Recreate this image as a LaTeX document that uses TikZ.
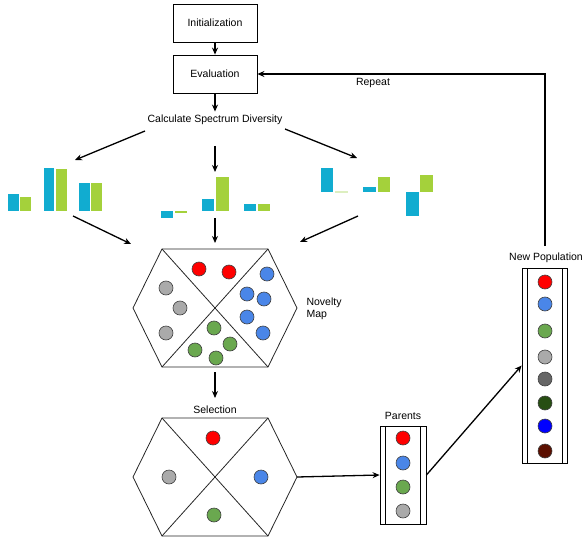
\documentclass[tikz,border=0pt]{standalone}
\usepackage{fontspec}
\setmainfont{Liberation Sans}
\usetikzlibrary{arrows.meta}
\definecolor{barblue}{HTML}{11ACD0}
\definecolor{bargreen}{HTML}{A4D13B}
\definecolor{barpale}{HTML}{DDEFC0}
\definecolor{cred}{HTML}{FF0000}
\definecolor{cblue}{HTML}{4A86E8}
\definecolor{cgreen}{HTML}{6AA84F}
\definecolor{cgray}{HTML}{AAAAAA}
\definecolor{cdgray}{HTML}{666666}
\definecolor{cdgreen}{HTML}{274E13}
\definecolor{cpure}{HTML}{0000FF}
\definecolor{cbrown}{HTML}{5B0F00}
\begin{document}
\begin{tikzpicture}[x=1pt,y=-1pt,font=\fontsize{10.5}{12.5}\selectfont,
  arr/.style={line width=1.3pt,-{Stealth[length=7pt,width=6pt]}},
  box/.style={draw,line width=0.8pt,minimum width=84pt,minimum height=38pt,inner sep=0pt},
  dot/.style={circle,draw=black!75,line width=0.6pt,minimum size=14pt,inner sep=0pt},
  hexl/.style={draw=black!85,line width=0.8pt},
  col/.style={draw,line width=0.8pt,inner sep=0pt},
  hexagon/.pic={
    \draw[hexl] (-53,-59) -- (53,-59) -- (82,0) -- (53,59) -- (-53,59) -- (-82,0) -- cycle;
    \draw[hexl] (-53,-59) -- (53,59);
    \draw[hexl] (53,-59) -- (-53,59);
  }]
\useasboundingbox (0,0) rectangle (588,540);

% top boxes
\node[box] (init) at (215,23) {Initialization};
\node[box] (eval) at (215,74) {Evaluation};
\node (calc) at (215,120) {Calculate Spectrum Diversity};
\draw[arr] (init) -- (eval);
\draw[arr] (eval) -- (calc);

% arrows to charts
\coordinate (c1s) at (145,131);
\coordinate (c1e) at (75,160);
\coordinate (c2s) at (215,146);
\coordinate (c2e) at (215,172);
\coordinate (c3s) at (285,129);
\coordinate (c3e) at (357,158);
\draw[arr] (c1s) -- (c1e);
\draw[arr] (c2s) -- (c2e);
\draw[arr] (c3s) -- (c3e);

% chart 1
\fill[barblue] (8,194) rectangle (19,211);
\fill[bargreen] (20,197) rectangle (31,211);
\fill[barblue] (44,168) rectangle (54,211);
\fill[bargreen] (56,169) rectangle (67,211);
\fill[barblue] (79,183) rectangle (90,211);
\fill[bargreen] (91,183) rectangle (102,211);
% chart 2
\fill[barblue] (161,211) rectangle (173,218);
\fill[bargreen] (175,211) rectangle (187,213);
\fill[barblue] (202,199) rectangle (214,211);
\fill[bargreen] (216,177) rectangle (229,211);
\fill[barblue] (244,204) rectangle (256,211);
\fill[bargreen] (258,204) rectangle (270,211);
% chart 3
\fill[barblue] (321,168) rectangle (333,192);
\fill[barpale] (335,191) rectangle (348,193);
\fill[barblue] (363,187) rectangle (376,192);
\fill[bargreen] (378,177) rectangle (390,192);
\fill[barblue] (406,192) rectangle (419,216);
\fill[bargreen] (420,175) rectangle (433,192);

% arrows to novelty map
\coordinate (d1s) at (73,216);
\coordinate (d1e) at (131,244);
\coordinate (d2s) at (215,218);
\coordinate (d2e) at (215,243);
\coordinate (d3s) at (358,216);
\coordinate (d3e) at (300,242);
\draw[arr] (d1s) -- (d1e);
\draw[arr] (d2s) -- (d2e);
\draw[arr] (d3s) -- (d3e);

% novelty map
\pic at (215,308) {hexagon};
\node[dot,fill=cred] (r1) at (199,269) {};
\node[dot,fill=cred] (r2) at (229,272) {};
\node[dot,fill=cblue] (b1) at (267,274) {};
\node[dot,fill=cblue] (b2) at (247,294) {};
\node[dot,fill=cblue] (b3) at (264,299) {};
\node[dot,fill=cblue] (b4) at (247,317) {};
\node[dot,fill=cblue] (b5) at (263,333) {};
\node[dot,fill=cgray] (g1) at (166,288) {};
\node[dot,fill=cgray] (g2) at (180,308) {};
\node[dot,fill=cgray] (g3) at (166,333) {};
\node[dot,fill=cgreen] (n1) at (214,328) {};
\node[dot,fill=cgreen] (n2) at (230,344) {};
\node[dot,fill=cgreen] (n3) at (195,350) {};
\node[dot,fill=cgreen] (n4) at (216,358) {};
\node[align=left,anchor=west] (nmap) at (303,309) {Novelty\\Map};

\coordinate (h1b) at (215,372);
\coordinate (h2t) at (215,398);
\draw[arr] (h1b) -- (h2t);

% selection
\node (sel) at (215,410) {Selection};
\pic at (215,477) {hexagon};
\node[dot,fill=cred] (sr) at (213,438) {};
\node[dot,fill=cgray] (sg) at (169,477) {};
\node[dot,fill=cblue] (sb) at (261,477) {};
\node[dot,fill=cgreen] (sn) at (214,515) {};
\coordinate (h2r) at (297,477);

% parents
\node[col,minimum width=46pt,minimum height=98pt] (parents) at (403,475) {};
\draw[line width=0.8pt] (385,426) -- (385,524);
\draw[line width=0.8pt] (420,426) -- (420,524);
\node (plabel) at (403,416) {Parents};
\node[dot,fill=cred] (p1) at (403,438) {};
\node[dot,fill=cblue] (p2) at (403,463) {};
\node[dot,fill=cgreen] (p3) at (403,487) {};
\node[dot,fill=cgray] (p4) at (403,511) {};
\draw[arr] (h2r) -- (parents.west);

% new population
\node[col,minimum width=45pt,minimum height=195pt] (newpop) at (544.5,365.5) {};
\draw[line width=0.8pt] (527,268) -- (527,463);
\draw[line width=0.8pt] (562,268) -- (562,463);
\node (nlabel) at (546,258) {New Population};
\node[dot,fill=cred] (q1) at (545,282) {};
\node[dot,fill=cblue] (q2) at (545,304) {};
\node[dot,fill=cgreen] (q3) at (545,331) {};
\node[dot,fill=cgray] (q4) at (545,357) {};
\node[dot,fill=cdgray] (q5) at (545,379) {};
\node[dot,fill=cdgreen] (q6) at (545,403) {};
\node[dot,fill=cpure] (q7) at (545,426) {};
\node[dot,fill=cbrown] (q8) at (545,451) {};
\draw[arr] (parents.east) -- (newpop.west);

% repeat loop
\coordinate (rp) at (545,246);
\draw[arr] (rp) |- (eval.east);
\node (rep) at (373,83) {Repeat};
\end{tikzpicture}
\end{document}
